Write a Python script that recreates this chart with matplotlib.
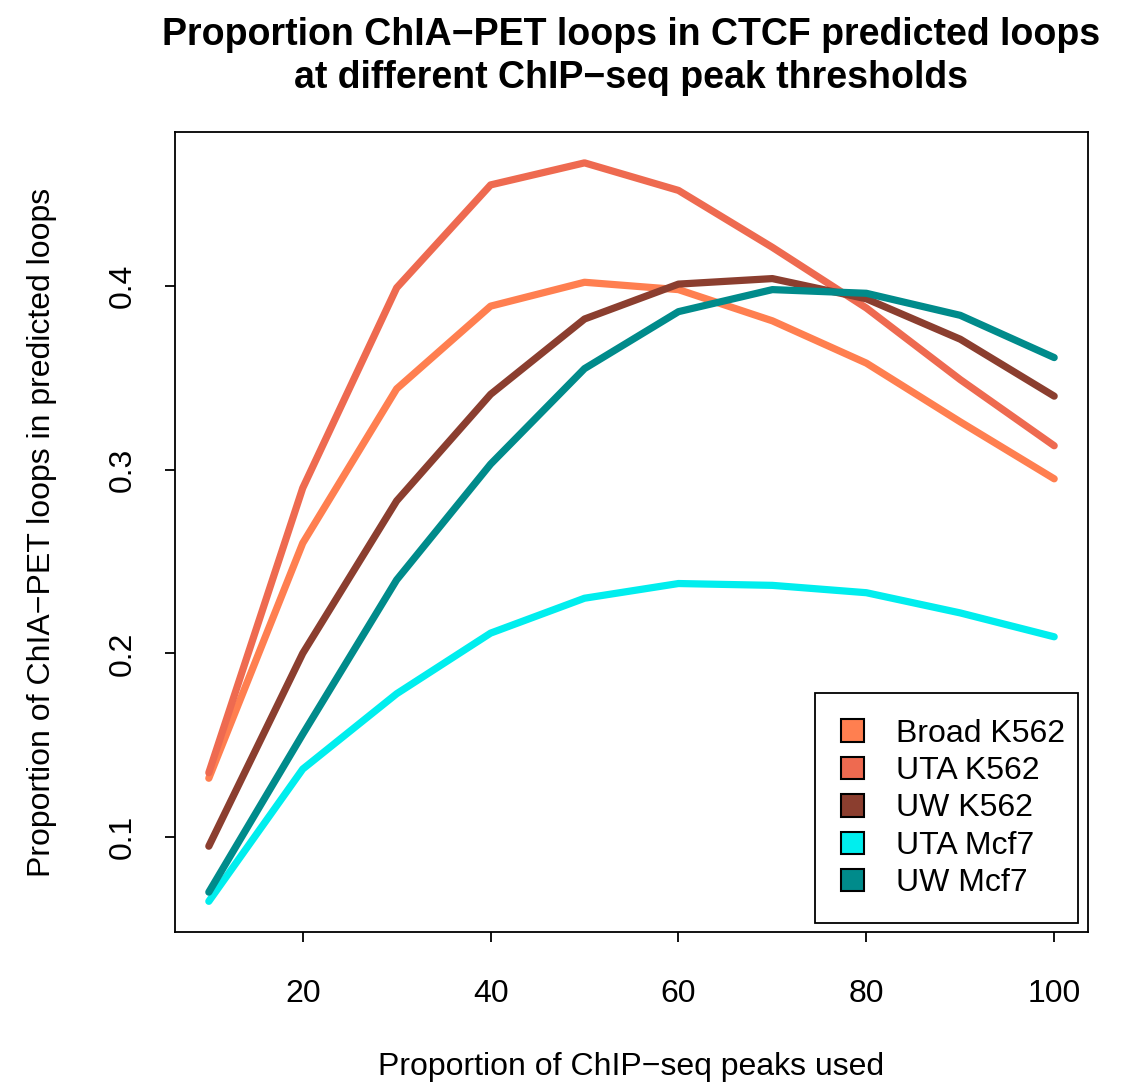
import matplotlib
matplotlib.use("Agg")
import matplotlib.pyplot as plt
from matplotlib.patches import Patch, Rectangle

plt.rcParams['font.family'] = ['Liberation Sans', 'DejaVu Sans']

x = [10, 20, 30, 40, 50, 60, 70, 80, 90, 100]
labels = ["Broad K562", "UTA K562", "UW K562", "UTA Mcf7", "UW Mcf7"]
colors = ["#FF7F50", "#EE6A50", "#8B3E2F", "#00EEEE", "#008B8B"]
broad_k562 = [0.132, 0.260, 0.344, 0.389, 0.402, 0.398, 0.381, 0.358, 0.326, 0.295]
uta_k562 = [0.135, 0.290, 0.399, 0.455, 0.467, 0.452, 0.421, 0.388, 0.349, 0.313]
uw_k562 = [0.095, 0.200, 0.283, 0.341, 0.382, 0.401, 0.404, 0.393, 0.371, 0.340]
uta_mcf7 = [0.065, 0.137, 0.178, 0.211, 0.230, 0.238, 0.237, 0.233, 0.222, 0.209]
uw_mcf7 = [0.070, 0.156, 0.240, 0.303, 0.355, 0.386, 0.398, 0.396, 0.384, 0.361]
series = [broad_k562, uta_k562, uw_k562, uta_mcf7, uw_mcf7]
xticks = [20, 40, 60, 80, 100]
yticks = [0.1, 0.2, 0.3, 0.4]

W, H = 1130, 1087
fig = plt.figure(figsize=(W/100, H/100), dpi=100)
ax = fig.add_axes([175/W, 1-932/H, (1088-175)/W, (932-132)/H])

for ys, c in zip(series, colors):
    ax.plot(x, ys, color=c, lw=5.2, solid_capstyle='round', solid_joinstyle='round')

ax.set_xlim(6.4, 103.6)
ax.set_ylim(0.0483, 0.4838)
ax.set_xticks(xticks)
ax.set_xticklabels([str(v) for v in xticks])
ax.set_yticks(yticks)
ax.set_yticklabels([str(v) for v in yticks], rotation=90, va='center')
ax.tick_params(direction='out', length=7, width=1.3, labelsize=23)
ax.tick_params(axis='x', pad=27)
ax.tick_params(axis='y', pad=20)
for s in ax.spines.values():
    s.set_linewidth(1.3)

fig.text(631/W, 1-1067/H, "Proportion of ChIP\u2212seq peaks used", ha='center', va='center', fontsize=23)
fig.text(42/W, 1-532/H, "Proportion of ChIA\u2212PET loops in predicted loops", ha='center', va='center', fontsize=23, rotation=90)
fig.text(631/W, 1-35/H, "Proportion ChIA\u2212PET loops in CTCF predicted loops", ha='center', va='center', fontsize=27, fontweight='bold')
fig.text(631/W, 1-78/H, "at different ChIP\u2212seq peak thresholds", ha='center', va='center', fontsize=27, fontweight='bold')

# legend frame (R-style)
frame = Rectangle((815/W, 1-923/H), (1078-815)/W, (923-693)/H, transform=fig.transFigure,
                  facecolor='white', edgecolor='black', linewidth=1.3, zorder=4)
ax.add_patch(frame)
frame.set_clip_on(False)

handles = [Patch(facecolor=c, edgecolor='black', linewidth=1.5) for c in colors]
leg = ax.legend(handles, labels, loc='center', bbox_to_anchor=(953/W, 1-808.5/H),
                bbox_transform=fig.transFigure,
                fontsize=23, frameon=False,
                handlelength=0.7, handleheight=0.7, handletextpad=1.0,
                labelspacing=0.233, borderpad=0, borderaxespad=0)
leg.set_zorder(5)

fig.savefig("out.png", dpi=100)
